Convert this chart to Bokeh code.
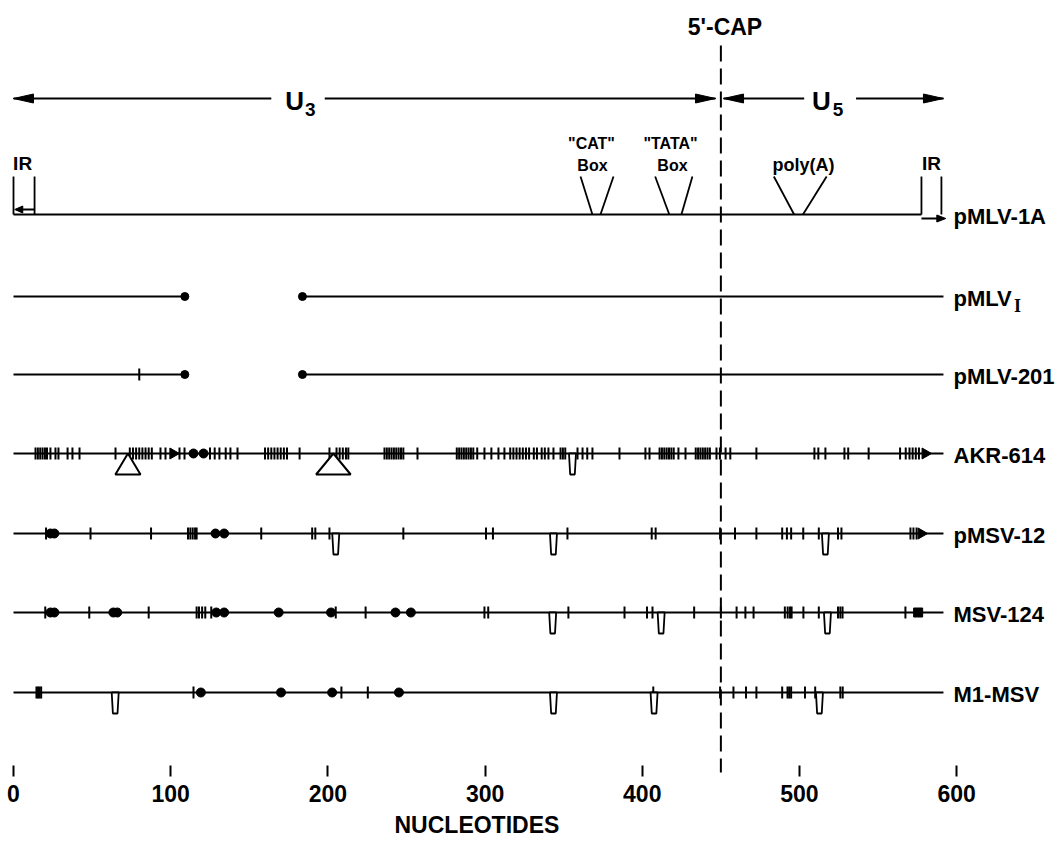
import math
from bokeh.plotting import figure
from bokeh.models import Range1d, LinearAxis, FixedTicker, Title
from bokeh.core.properties import value
from bokeh.embed import file_html
from bokeh.resources import INLINE

FONT = "Liberation Sans"
SERIF = "Liberation Serif"
STYLE = "bold"

# ---------------- data (nucleotide positions) ----------------
AXIS_TICKS = [0, 100, 200, 300, 400, 500, 600]
AXIS_TITLE = "NUCLEOTIDES"
CAP_POS = 450
TRACK_END = 591.6

TRACK_NAMES = ["pMLV-1A", "pMLV", "pMLV-201", "AKR-614", "pMSV-12", "MSV-124", "M1-MSV"]
TRACK_ROWS = [214, 296, 374, 453, 533, 612, 692]

# pMLV-1A annotations
CAT_TOP = [360.7, 381.7]
CAT_BOT = [368.3, 373.4]
TATA_TOP = [408.2, 431.9]
TATA_BOT = [417.2, 424.9]
POLYA_TOP = [483.7, 517.3]
POLYA_BOT = [496.6, 502.2]
IR_LEFT = [0.0, 13.4]
IR_RIGHT = [577.6, 590.3]

# deletion (pMLV_I, pMLV-201)
DEL_START = 109
DEL_END = 183.8
PMLV201_TICKS = [80]

AKR_TICKS = [14, 15.5, 17, 18.5, 20, 21.3, 23.5, 26.7, 28.6, 34.4, 37.5, 42, 64.9,
             74, 76, 78, 80, 82, 84, 86, 88, 93.5, 96.7, 105.6, 108.8,
             125, 128, 131, 135, 138, 142.5, 160, 162, 164, 166, 168, 170, 172, 174, 182,
             201, 205.5, 207.5, 209.5, 211.5, 213, 236, 237.5, 239, 240.5, 242, 243.5,
             245, 246.5, 248, 257, 282, 283.5, 285, 286.5, 288, 289.5, 291, 292.5,
             295, 299.6, 304, 308.5, 312.3, 316, 318, 320, 322, 324, 326, 328, 331, 333,
             336, 338, 340.3, 343.5, 348, 349.5, 351, 358.8, 362, 365, 368.3, 385.5,
             402, 404.6, 411, 412.5, 414, 415.5, 417, 418.5, 420, 423, 427.5,
             434, 435.5, 437, 438.5, 440, 441.5, 443, 447.2, 449.4, 453, 456, 472.6,
             509.5, 512, 516.5, 528.6, 531, 544, 564, 567.6, 570, 572, 574, 576]
AKR_DOTS = [114.5, 120.9]
AKR_HEADS = [101.5, 580]
AKR_INSERTS = [72.8, 203.5]
AKR_INSERT_HALF = [8, 11]
AKR_TAPERS = [355.6]

PMSV_TICKS = [20.7, 49, 87.5, 111, 112.5, 114, 115.5, 116.5, 157.6, 190, 192, 201, 248,
              300.6, 305, 352.4, 406, 408.5, 449.5, 459, 472.6, 489, 492, 494.7, 502.4,
              512.3, 524.5, 526.7, 570.6, 572.5, 574.5]
PMSV_DOTS = [23.5, 26, 128.5, 134]
PMSV_HEADS = [577.5]
PMSV_TAPERS = [205, 343.5, 516.5]

MSV_TICKS = [20.2, 48.2, 86, 116.5, 118, 120, 122, 125.8, 205, 224, 299.6, 302, 353,
             388.7, 403, 406.5, 433, 450, 460, 465.6, 470.8, 490.7, 492.5, 494, 495,
             502.5, 512.3, 524.5, 526, 527.4, 567.4]
MSV_DOTS = [23.5, 26, 63.5, 66, 129, 134, 168.7, 202, 243, 252.8]
MSV_SQUARES = [575.5]
MSV_TAPERS = [343, 412, 517.8]

M1_TICKS = [14.6, 15.6, 16.6, 17.6, 114.5, 208.6, 225.4, 407, 449.5, 458, 466, 472.6,
            489, 492.4, 493.5, 494.7, 503.5, 510, 526, 527.5]
M1_DOTS = [119.2, 170.2, 202.7, 245.2]
M1_TAPERS = [64.7, 343.5, 407.5, 512.7]

# region arrows (left tip, gap start, gap end, right tip)
U3_SPAN = [0, 446.6]
U3_GAP = [164, 198]
U5_SPAN = [451.7, 591.6]
U5_GAP = [503, 536]

# ---------------- figure ----------------
X0, X1 = -8.27, 668.6
W, H = 1064, 847
PX = W / (X1 - X0)  # pixels per nucleotide

p = figure(width=W, height=H, x_range=Range1d(X0, X1), y_range=Range1d(776, 0),
           output_backend="svg", toolbar_location=None,
           x_axis_location=None, y_axis_location=None,
           min_border_left=0, min_border_right=0, min_border_top=0, min_border_bottom=71)
p.grid.visible = False
p.outline_line_color = None
p.background_fill_color = "white"
p.border_fill_color = "white"

axis = LinearAxis(ticker=FixedTicker(ticks=AXIS_TICKS), axis_line_color=None,
                  major_tick_in=11, major_tick_out=0, major_tick_line_width=2,
                  minor_tick_line_color=None, major_label_standoff=8,
                  major_label_text_font=FONT, major_label_text_font_size="23px",
                  major_label_text_font_style=STYLE, major_label_text_color="black")
p.add_layout(axis, "below")
p.add_layout(Title(text=AXIS_TITLE, align="left", offset=394, standoff=10,
                   text_font=FONT, text_font_size="23px", text_font_style=STYLE,
                   text_color="black"), "below")

LW = 2.2
K = "black"

# cap dashed line
p.segment(x0=[CAP_POS], y0=[45], x1=[CAP_POS], y1=[772], line_width=2, color=K, line_dash="16 7")

# tracks
r = dict(zip(TRACK_NAMES, TRACK_ROWS))
full = ["AKR-614", "pMSV-12", "MSV-124", "M1-MSV"]
p.segment(x0=[0] * len(full), y0=[r[n] for n in full], x1=[TRACK_END] * len(full),
          y1=[r[n] for n in full], line_width=LW, color=K)
p.segment(x0=[0], y0=[r["pMLV-1A"]], x1=[IR_RIGHT[0]], y1=[r["pMLV-1A"]], line_width=LW, color=K)
for nm in ["pMLV", "pMLV-201"]:
    y = r[nm]
    p.segment(x0=[0, DEL_END], y0=[y, y], x1=[DEL_START, TRACK_END], y1=[y, y], line_width=LW, color=K)
    p.scatter([DEL_START, DEL_END], [y, y], marker="circle", size=8, color=K)


def ticks(xs, y):
    p.scatter(xs, [y] * len(xs), marker="dash", angle=math.pi / 2, size=12, line_width=2, color=K)


def dots(xs, y, size=9):
    p.scatter(xs, [y] * len(xs), marker="circle", size=size, color=K)


def heads(xs, y):
    p.scatter(xs, [y] * len(xs), marker="triangle", angle=-math.pi / 2, size=11, color=K)


def tapers(xs, y):
    w1, w2, h = 3.5 / PX, 2.3 / PX, 21
    p.patches([[x - w1, x - w2, x + w2, x + w1] for x in xs],
              [[y, y + h, y + h, y] for _ in xs],
              fill_color="white", line_color=K, line_width=1.8)


def arrowhead(tip, y, direction, length=20, half=4.5):
    base = tip - direction * length / PX
    p.patch([tip, base, base], [y, y - half, y + half], color=K, line_width=1)


ticks(PMLV201_TICKS, r["pMLV-201"])

y = r["AKR-614"]
ticks(AKR_TICKS, y); dots(AKR_DOTS, y); heads(AKR_HEADS, y); tapers(AKR_TAPERS, y)
p.patches([[x, x - h, x + h] for x, h in zip(AKR_INSERTS, AKR_INSERT_HALF)],
          [[y, y + 21, y + 21] for _ in AKR_INSERTS],
          fill_color="white", line_color=K, line_width=2)

y = r["pMSV-12"]
ticks(PMSV_TICKS, y); dots(PMSV_DOTS, y); heads(PMSV_HEADS, y); tapers(PMSV_TAPERS, y)

y = r["MSV-124"]
ticks(MSV_TICKS, y); dots(MSV_DOTS, y); tapers(MSV_TAPERS, y)
p.scatter(MSV_SQUARES, [y] * len(MSV_SQUARES), marker="square", size=9, color=K)

y = r["M1-MSV"]
ticks(M1_TICKS, y); dots(M1_DOTS, y); tapers(M1_TAPERS, y)

# pMLV-1A features
y = r["pMLV-1A"]
for top, bot in [(CAT_TOP, CAT_BOT), (TATA_TOP, TATA_BOT), (POLYA_TOP, POLYA_BOT)]:
    p.segment(x0=top, y0=[176, 176], x1=bot, y1=[y, y], line_width=1.8, color=K)
p.segment(x0=IR_LEFT + IR_RIGHT, y0=[176] * 4, x1=IR_LEFT + IR_RIGHT, y1=[y] * 4,
          line_width=1.8, color=K)
p.segment(x0=[IR_LEFT[0] + 2, IR_RIGHT[0]], y0=[y - 5, y + 4], x1=[IR_LEFT[1], TRACK_END - 2],
          y1=[y - 5, y + 4], line_width=1.8, color=K)
arrowhead(IR_LEFT[0] + 0.8, y - 5, -1, length=8, half=3.5)
arrowhead(TRACK_END + 1.5, y + 4, 1, length=9, half=3.5)

# U3 / U5 arrows
AY = 98
for span, gap in [(U3_SPAN, U3_GAP), (U5_SPAN, U5_GAP)]:
    p.segment(x0=[span[0], gap[1]], y0=[AY, AY], x1=[gap[0], span[1]], y1=[AY, AY],
              line_width=2, color=K)
    arrowhead(span[0], AY, -1)
    arrowhead(span[1], AY, 1)


def txt(xs, ys, texts, size, align="center", font=FONT, style=STYLE):
    p.text(xs, ys, text=texts, text_font=value(font), text_font_size=value(size),
           text_font_style=style, text_align=align, text_baseline="middle", text_color=K)


txt([452.6], [26], ["5'-CAP"], "23px")
txt([178.8, 514], [100, 100], ["U", "U"], "26px")
txt([188.8, 524.5], [109, 109], ["3", "5"], "19px")
txt([5.8, 584], [163, 163], ["IR", "IR"], "19px")
txt([367.7, 418, 368.3, 419.2], [143, 143, 165, 165], ['"CAT"', '"TATA"', "Box", "Box"], "16px")
txt([502.5], [164], ["poly(A)"], "18px")
txt([598] * len(TRACK_NAMES), [v + 2 for v in TRACK_ROWS], TRACK_NAMES, "22px", align="left")
txt([636.5], [r["pMLV"] + 9], ["I"], "18px", align="left", font=SERIF)

open("out.html", "w").write(file_html(p, INLINE))
